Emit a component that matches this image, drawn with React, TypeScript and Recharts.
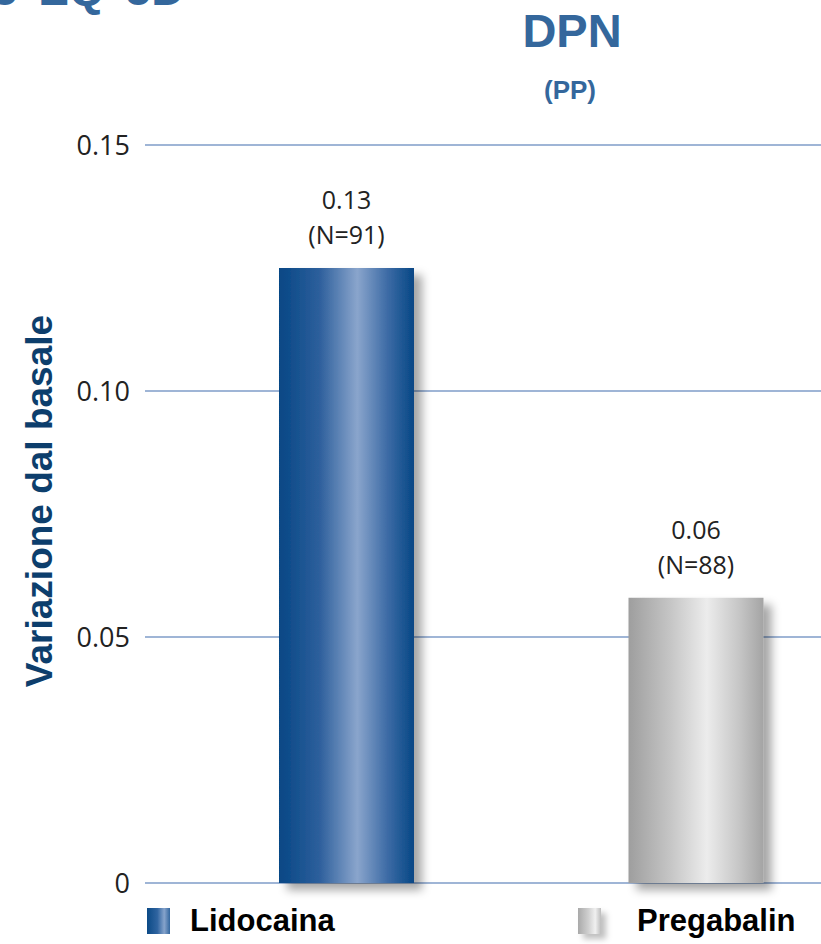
import { BarChart, Bar, Cell, CartesianGrid, XAxis, YAxis, Legend, LabelList } from "recharts";

const treatments = ["Lidocaina", "Pregabalin"];
const changeFromBaseline = [0.125, 0.058];
const patientCounts = [91, 88];
const yTicks = [0, 0.05, 0.1, 0.15];

const data = treatments.map((name, i) => ({
  name,
  value: changeFromBaseline[i],
  n: patientCounts[i],
}));

const fills = ["url(#gradLido)", "url(#gradPreg)"];
const titleBlue = "#34679c";
const labelNavy = "#0d3e6c";
const gridBlue = "#7f9dc9";

function ValueLabel(props: any) {
  const { x, y, width, index } = props;
  const row = data[index];
  const cx = x + width / 2;
  return (
    <g fontFamily="'Open Sans', sans-serif" fontSize={25} fill="#222" textAnchor="middle">
      <text x={cx} y={y - 69} dominantBaseline="central">
        {row.value.toFixed(2)}
      </text>
      <text x={cx} y={y - 34} dominantBaseline="central">
        (N={row.n})
      </text>
    </g>
  );
}

function AxisTitle() {
  return (
    <text
      x={39}
      y={501}
      transform="rotate(-90 39 501)"
      textAnchor="middle"
      dominantBaseline="central"
      fontFamily="'Liberation Sans', Arial, sans-serif"
      fontWeight={700}
      fontSize={37}
      fill={labelNavy}
    >
      Variazione dal basale
    </text>
  );
}

function LegendBox() {
  const items = [
    { left: 147, swatch: "linear-gradient(90deg,#0b4a86 0%,#2f64a0 45%,#86a3cb 75%,#33679f 100%)", shadow: "none" },
    { left: 578, swatch: "linear-gradient(90deg,#a9a9a9 0%,#cfcfcf 45%,#f0f0f0 75%,#bdbdbd 100%)", shadow: "5px 5px 6px rgba(0,0,0,0.25)" },
  ];
  return (
    <div style={{ position: "relative", width: 821, height: 56 }}>
      {items.map((it, i) => (
        <div key={treatments[i]} style={{ position: "absolute", left: it.left, top: 25, display: "flex", alignItems: "center" }}>
          <div style={{ width: 23, height: 26, background: it.swatch, boxShadow: it.shadow }} />
          <span
            style={{
              marginLeft: i === 0 ? 20 : 36,
              fontFamily: "'Liberation Sans', Arial, sans-serif",
              fontWeight: 700,
              fontSize: 31,
              color: "#000",
              lineHeight: "26px",
            }}
          >
            {treatments[i]}
          </span>
        </div>
      ))}
    </div>
  );
}

export default function App() {
  return (
    <div style={{ position: "fixed", left: 0, top: 0, width: 821, height: 944, overflow: "hidden", background: "#fff" }}>
      <svg width={821} height={944} style={{ position: "absolute", left: 0, top: 0 }}>
        <text
          x={-8}
          y={5}
          fontFamily="'Liberation Sans', Arial, sans-serif"
          fontWeight={700}
          fontSize={46}
          fill={titleBlue}
          wordSpacing={8}
        >
          5 EQ 5D
        </text>
        <text
          x={572}
          y={47}
          textAnchor="middle"
          fontFamily="'Liberation Sans', Arial, sans-serif"
          fontWeight={700}
          fontSize={47}
          fill={titleBlue}
        >
          DPN
        </text>
        <text
          x={570}
          y={99}
          textAnchor="middle"
          fontFamily="'Liberation Sans', Arial, sans-serif"
          fontWeight={700}
          fontSize={26}
          fill={titleBlue}
        >
          (PP)
        </text>
      </svg>
      <div style={{ position: "absolute", left: 0, top: 0 }}>
        <BarChart width={880} height={944} data={data} margin={{ top: 145, right: 9, bottom: 5, left: 0 }}>
          <defs>
            <linearGradient id="gradLido" x1="0" y1="0" x2="1" y2="0">
              <stop offset="0%" stopColor="#064785" />
              <stop offset="30%" stopColor="#2d5f9c" />
              <stop offset="58%" stopColor="#8aa5cc" />
              <stop offset="80%" stopColor="#3e6ca6" />
              <stop offset="100%" stopColor="#064785" />
            </linearGradient>
            <linearGradient id="gradPreg" x1="0" y1="0" x2="1" y2="0">
              <stop offset="0%" stopColor="#9e9e9e" />
              <stop offset="30%" stopColor="#c4c4c4" />
              <stop offset="58%" stopColor="#ececec" />
              <stop offset="82%" stopColor="#c6c6c6" />
              <stop offset="100%" stopColor="#a4a4a4" />
            </linearGradient>
            <filter id="barShadow" x="-20%" y="-10%" width="150%" height="130%">
              <feDropShadow dx={8} dy={7} stdDeviation={5} floodColor="#000" floodOpacity={0.35} />
            </filter>
          </defs>
          <CartesianGrid vertical={false} stroke={gridBlue} strokeWidth={1.5} />
          <XAxis dataKey="name" hide padding={{ left: 27, right: 0 }} />
          <YAxis
            width={145}
            domain={[0, 0.15]}
            ticks={yTicks}
            axisLine={false}
            tickLine={false}
            tickSize={0}
            tickMargin={15}
            tickFormatter={(v: number) => (v === 0 ? "0" : v.toFixed(2))}
            tick={{ fontFamily: "'Open Sans', sans-serif", fontSize: 27, fill: "#222" }}
            label={{ content: () => <AxisTitle /> }}
          />
          <Legend verticalAlign="bottom" align="left" content={() => <LegendBox />} />
          <Bar dataKey="value" barSize={135} isAnimationActive={false}>
            {data.map((d, i) => (
              <Cell key={d.name} fill={fills[i]} filter="url(#barShadow)" />
            ))}
            <LabelList dataKey="value" content={<ValueLabel />} />
          </Bar>
        </BarChart>
      </div>
    </div>
  );
}
